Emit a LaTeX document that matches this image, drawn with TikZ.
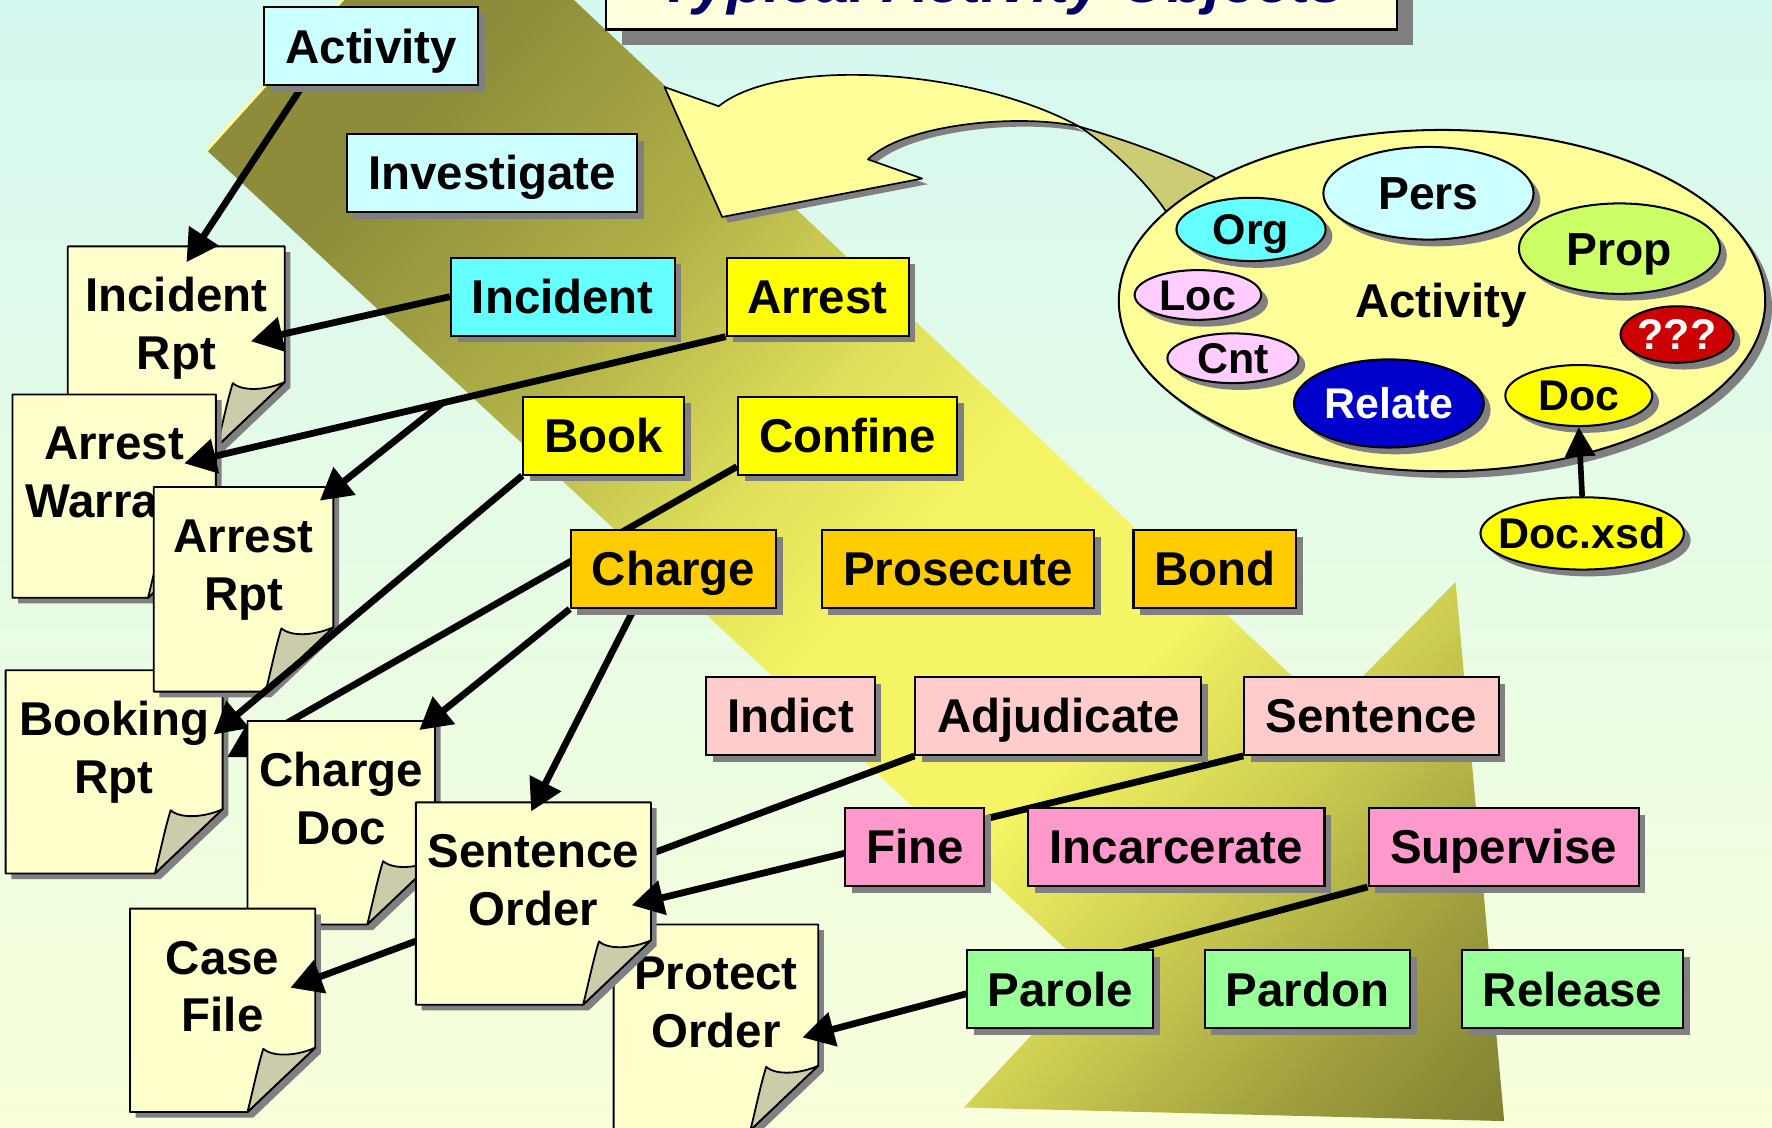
\documentclass[tikz,border=0pt]{standalone}
\usepackage{fontspec}
\setmainfont{Liberation Sans}
\usetikzlibrary{arrows.meta,shapes.geometric,shadows,calc}
\pgfdeclarelayer{front}
\pgfsetlayers{main,front}
\definecolor{shadowgray}{HTML}{808080}
\definecolor{cyanL}{HTML}{CCFFFF}
\definecolor{cyanM}{HTML}{66FFFF}
\definecolor{yel}{HTML}{FFFF00}
\definecolor{orng}{HTML}{FFCC00}
\definecolor{pinkL}{HTML}{FFCCCC}
\definecolor{pinkM}{HTML}{FF99CC}
\definecolor{grn}{HTML}{99FF99}
\definecolor{docfill}{HTML}{FFFFCC}
\definecolor{foldfill}{HTML}{CCCCAA}
\definecolor{ellY}{HTML}{FFFF99}
\definecolor{callDark}{HTML}{CCCC77}
\definecolor{lilac}{HTML}{FFCCFF}
\definecolor{lime}{HTML}{CCFF66}
\definecolor{relblue}{HTML}{0000CC}
\definecolor{qred}{HTML}{CC0000}
\definecolor{titlefill}{HTML}{FFFFDD}
\definecolor{navy}{HTML}{000066}
\definecolor{bgtop}{RGB}{213,248,240}
\definecolor{bgbot}{RGB}{248,255,218}
\definecolor{olA}{RGB}{140,140,58}
\definecolor{olA2}{RGB}{176,176,72}
\definecolor{olA3}{RGB}{222,222,90}
\definecolor{bandY}{RGB}{244,244,100}
\definecolor{olB3}{RGB}{204,204,82}
\definecolor{olB2}{RGB}{160,160,62}
\definecolor{olB}{RGB}{116,116,45}
\pgfdeclareverticalshading{bandshade}{100bp}{color(0bp)=(olB); color(12bp)=(olB); color(22bp)=(olB2);
  color(30bp)=(olB3); color(38bp)=(bandY); color(48bp)=(bandY); color(55bp)=(olA3); color(64bp)=(olA2);
  color(75bp)=(olA); color(100bp)=(olA)}
\newcommand\boxfont{\bfseries\fontsize{42}{51}\selectfont}
\newcommand\ellfont{\bfseries\fontsize{38}{46}\selectfont}
\newcommand\ellbigfont{\bfseries\fontsize{41}{49}\selectfont}
\newcommand\twol[2]{\begin{tabular}{@{}c@{}}#1\\#2\end{tabular}}
\newcommand\drawdoc[4]{%
  \fill[shadowgray] (#1+5,#2+5) -- (#3+5,#2+5) -- (#3+5,#4-57+5) -- (#3-60+5,#4+5) -- (#1+5,#4+5) -- cycle;
  \draw[docline, fill=docfill] (#1,#2) -- (#3,#2) -- (#3,#4-57) -- (#3-60,#4) -- (#1,#4) -- cycle;
  \draw[docline, fill=foldfill] (#3-60,#4) .. controls (#3-55,#4-20) and (#3-51,#4-40) .. (#3-46,#4-56)
     .. controls (#3-37,#4-48) and (#3-15,#4-50) .. (#3,#4-57) -- cycle;
}
\begin{document}
\begin{tikzpicture}[x=1pt,y=-1pt,
  sh/.style={drop shadow={shadow xshift=6pt,shadow yshift=-6pt,fill=shadowgray,opacity=1}},
  box/.style={draw, line width=1.8pt, inner sep=0pt, minimum height=69pt, font=\boxfont,
              text height=30pt, text depth=0pt, sh},
  docline/.style={draw, line width=1.6pt, line join=round},
  doctext/.style={inner sep=0pt, font=\boxfont},
  ell/.style={ellipse, draw, line width=1.8pt, inner sep=0pt, font=\ellfont,
              text height=27pt, text depth=0pt, sh},
  ellbig/.style={ell, font=\ellbigfont, text height=29pt},
  conn/.style={line width=6pt, -{Triangle[length=28pt,width=30pt]}},
  conn2/.style={line width=5pt, -{Triangle[length=26pt,width=26pt]}}
]
\useasboundingbox (0,0) rectangle (1568,998);
\clip (0,0) rectangle (1568,998);
% background
\shade[top color=bgtop, bottom color=bgbot] (0,0) rectangle (1568,998);
% big band arrow
\shade[shading=bandshade, shading angle=48]
  (330,-30) -- (183,133) -- (965,860) -- (853,980) -- (1331,992) -- (1288,515)
  -- (1176,629) -- (476,-30) -- cycle;
\draw[line width=2.5pt, ellY] (183,133) -- (330,-30);
% callout ribbon
\fill[shadowgray] [shift={(5,5)}] (588,77) -- (636,94) .. controls (690,50) and (860,60) .. (955,112)
  .. controls (900,100) and (800,110) .. (768,141) -- (816,158) -- (639,192) -- cycle;
\draw[line width=1.5pt, line join=round, fill=ellY] (588,77) -- (636,94) .. controls (690,50) and (860,60) .. (955,112)
  .. controls (900,100) and (800,110) .. (768,141) -- (816,158) -- (639,192) -- cycle;
\draw[line width=1.5pt, line join=round, fill=callDark] (955,112) .. controls (1000,125) and (1040,140) .. (1075,157)
  -- (1060,200) -- (1031,186) .. controls (1010,155) and (975,125) .. (955,112) -- cycle;
% activity ellipse
\node[ell, fill=ellY, minimum width=572pt, minimum height=302pt] (bigell) at (1276,266) {};
\node[font=\boxfont, inner sep=0pt, text height=30pt, text depth=0pt] (acttxt) at (1275,266) {Activity};
\node[ellbig, fill=cyanL, minimum width=186pt, minimum height=82pt] (pers) at (1264,171) {\makebox[0pt]{Pers}};
\node[ell, fill=cyanM, minimum width=132pt, minimum height=56pt] (org) at (1107,203) {\makebox[0pt]{Org}};
\node[ellbig, fill=lime, minimum width=178pt, minimum height=80pt] (prop) at (1433,220) {\makebox[0pt]{Prop}};
\node[ell, fill=lilac, minimum width=112pt, minimum height=44pt] (loc) at (1060,261) {\makebox[0pt]{Loc}};
\node[ell, fill=lilac, minimum width=116pt, minimum height=44pt] (cnt) at (1091,317) {\makebox[0pt]{Cnt}};
\node[ell, fill=relblue, text=white, minimum width=168pt, minimum height=78pt] (relate) at (1229,357) {\makebox[0pt]{Relate}};
\node[ell, fill=qred, text=white, minimum width=100pt, minimum height=50pt] (qqq) at (1484,296) {\makebox[0pt]{???}};
\node[ell, fill=yel, minimum width=130pt, minimum height=54pt] (doc) at (1397,350) {\makebox[0pt]{Doc}};
\node[ell, fill=yel, minimum width=180pt, minimum height=64pt] (docxsd) at (1400,472) {\makebox[0pt]{Doc.xsd}};
\draw[conn2] (docxsd.north) -- (doc.south);
% title
\node[draw, line width=2pt, fill=titlefill, minimum width=700pt, inner sep=0pt, text height=60pt,
      text depth=24pt, anchor=south, font=\bfseries\itshape\fontsize{54}{60}\selectfont, text=navy,
      drop shadow={shadow xshift=14pt,shadow yshift=-14pt,fill=shadowgray,opacity=1}]
      (title) at (886,27) {Typical Activity Objects};
% activity boxes (front layer)
\begin{pgfonlayer}{front}
\node[box, fill=cyanL, minimum width=189pt] (activity) at (328.5,41) {Activity};
\node[box, fill=cyanL, minimum width=257pt] (investigate) at (435.5,153) {Investigate};
\node[box, fill=cyanM, minimum width=198pt] (incident) at (498,262.5) {Incident};
\node[box, fill=yel, minimum width=161pt] (arrest) at (723.5,262.5) {Arrest};
\node[box, fill=yel, minimum width=142pt] (book) at (534,385.5) {Book};
\node[box, fill=yel, minimum width=194pt] (confine) at (750,385.5) {Confine};
\node[box, fill=orng, minimum width=182pt] (charge) at (596,503.5) {Charge};
\node[box, fill=orng, minimum width=241pt] (prosecute) at (847.5,503.5) {Prosecute};
\node[box, fill=orng, minimum width=144pt] (bond) at (1075,503.5) {Bond};
\node[box, fill=pinkL, minimum width=149pt] (indict) at (699.5,633.5) {Indict};
\node[box, fill=pinkL, minimum width=253pt] (adjudicate) at (936.5,633.5) {Adjudicate};
\node[box, fill=pinkL, minimum width=225pt] (sentence) at (1213.5,633.5) {Sentence};
\node[box, fill=pinkM, minimum width=123pt] (fine) at (809.5,749.5) {Fine};
\node[box, fill=pinkM, minimum width=262pt] (incarcerate) at (1041,749.5) {Incarcerate};
\node[box, fill=pinkM, minimum width=239pt] (supervise) at (1330.5,749.5) {Supervise};
\node[box, fill=grn, minimum width=164pt] (parole) at (938,875.5) {Parole};
\node[box, fill=grn, minimum width=182pt] (pardon) at (1157,875.5) {Pardon};
\node[box, fill=grn, minimum width=195pt] (release) at (1391.5,875.5) {Release};
\end{pgfonlayer}
% documents and connectors
\drawdoc{60}{218}{252}{395}
\node[doctext] (incrpt) at (156,291.3) {\twol{Incident}{Rpt}};
\drawdoc{11}{349}{191}{529}
\node[doctext] (arrwar) at (101,422.3) {\twol{Arrest}{Warrant}};
\drawdoc{5}{593}{197}{773}
\node[doctext] (bookrpt) at (101,666.3) {\twol{Booking}{Rpt}};
\drawdoc{136}{431}{295}{612}
\node[doctext] (arrrpt) at (215.5,504.3) {\twol{Arrest}{Rpt}};
\draw[conn] ([shift={(-60.5,34.5)}]activity.center) -- ([shift={(9,-59.3)}]incrpt.center);
\draw[conn] (incident.west) -- ([shift={(66,10.7)}]incrpt.center);
\draw[conn] (arrest.south west) -- coordinate[pos=0.523] (abr) ([shift={(62,-12.3)}]arrwar.center);
\draw[conn] (abr) -- ([shift={(67.5,-61.3)}]arrrpt.center);
\draw[conn] (book.south west) -- ([shift={(88,-16.3)}]bookrpt.center);
\draw[conn] ([shift={(0,-8)}]confine.south west) -- ([shift={(100,3.7)}]bookrpt.center);
\drawdoc{219}{638}{385}{818}
\node[doctext] (chgdoc) at (302,711.3) {\twol{Charge}{Doc}};
\drawdoc{115}{804}{279}{984}
\node[doctext] (casefile) at (197,877.3) {\twol{Case}{File}};
\draw[conn] (adjudicate.south west) -- ([shift={(60,-3.3)}]casefile.center);
\drawdoc{543}{818}{724}{1000}
\node[doctext] (protord) at (633.5,891.3) {\twol{Protect}{Order}};
\drawdoc{368}{710}{576}{889}
\node[doctext] (sentord) at (472,783.3) {\twol{Sentence}{Order}};
\draw[conn] (charge.south west) -- ([shift={(69,-65.3)}]chgdoc.center);
\draw[conn] ([shift={(-35,0)}]charge.south) -- ([shift={(-2,-65.3)}]sentord.center);
\draw[conn] (sentence.south west) -- ([shift={(87,17.7)}]sentord.center);
\draw[conn] (supervise.south west) -- ([shift={(76.5,26.7)}]protord.center);
\end{tikzpicture}
\end{document}
